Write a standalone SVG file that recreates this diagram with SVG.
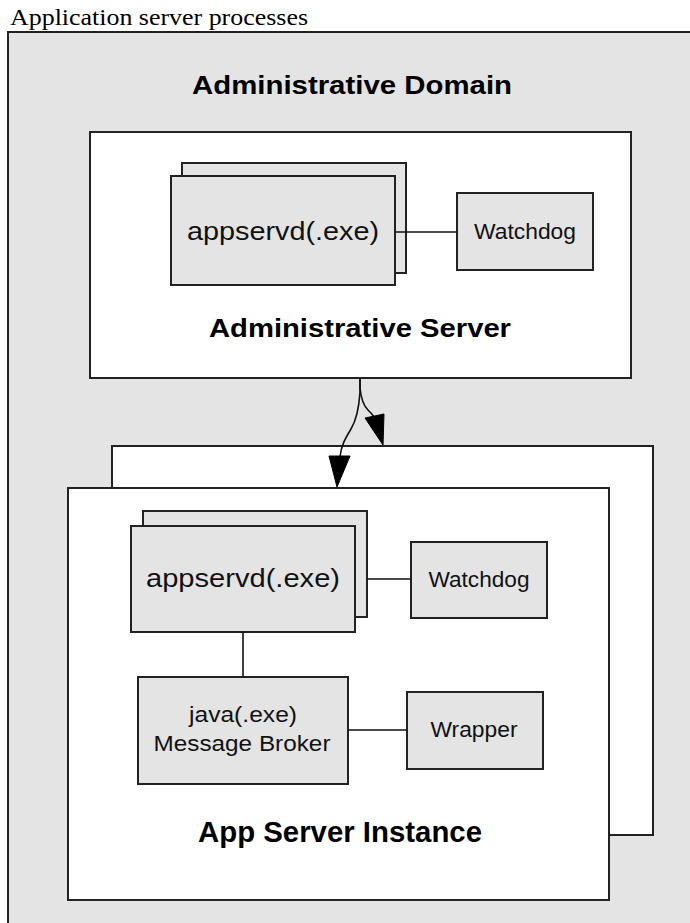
<svg xmlns="http://www.w3.org/2000/svg" width="690" height="923" viewBox="0 0 690 923">
<style>
.box{fill:#e4e4e4;stroke:#222;stroke-width:2}
.srv{fill:#ffffff;stroke:#222;stroke-width:2}
.ln{fill:none;stroke:#111;stroke-width:1.6}
.lbl{font-family:"Liberation Sans",Arial,sans-serif;font-size:22px;fill:#111;text-anchor:middle}
.big{font-family:"Liberation Sans",Arial,sans-serif;font-size:26px;fill:#111;text-anchor:middle}
.hd{font-family:"Liberation Sans",Arial,sans-serif;font-weight:bold;fill:#000;text-anchor:middle}
.ah{fill:#000;stroke:#000;stroke-width:1}
</style>
<rect x="0" y="0" width="690" height="923" fill="#ffffff"/>
<text x="10" y="25" font-family="Liberation Serif,'Times New Roman',serif" font-size="23" fill="#000" textLength="298" lengthAdjust="spacingAndGlyphs">Application server processes</text>

<g id="domain">
<rect x="8" y="32" width="700" height="910" fill="#e4e4e4" stroke="#222" stroke-width="2"/>
<text class="hd" x="352" y="94" font-size="26" textLength="320" lengthAdjust="spacingAndGlyphs">Administrative Domain</text>
</g>

<g id="admin-server">
<rect class="srv" x="90" y="132" width="541" height="246"/>
<text class="hd" x="360" y="337" font-size="25" textLength="302" lengthAdjust="spacingAndGlyphs">Administrative Server</text>
</g>
<g id="admin-appservd">
<rect class="box" x="182" y="163" width="224" height="110"/>
<rect class="box" x="171" y="176" width="224" height="109"/>
<text class="big" x="283" y="240" textLength="192" lengthAdjust="spacingAndGlyphs">appservd(.exe)</text>
</g>
<g id="admin-watchdog">
<rect class="box" x="457" y="193" width="136" height="77"/>
<text class="lbl" x="525" y="239" textLength="102" lengthAdjust="spacingAndGlyphs">Watchdog</text>
</g>

<g id="instance-back">
<rect class="srv" x="112" y="446" width="541" height="389"/>
</g>
<g id="app-server-instance">
<rect class="srv" x="68" y="488" width="541" height="412"/>
<text class="hd" x="340" y="842" font-size="30" textLength="284" lengthAdjust="spacingAndGlyphs">App Server Instance</text>
</g>
<g id="app-appservd">
<rect class="box" x="143" y="511" width="224" height="106"/>
<rect class="box" x="131" y="526" width="224" height="106"/>
<text class="big" x="243" y="587" textLength="194" lengthAdjust="spacingAndGlyphs">appservd(.exe)</text>
</g>
<g id="app-watchdog">
<rect class="box" x="411" y="542" width="136" height="76"/>
<text class="lbl" x="479" y="587" textLength="101" lengthAdjust="spacingAndGlyphs">Watchdog</text>
</g>
<g id="java-broker">
<rect class="box" x="138" y="677" width="210" height="107"/>
<text class="lbl" x="243" y="722" textLength="108" lengthAdjust="spacingAndGlyphs">java(.exe)</text>
<text class="lbl" x="242" y="751" textLength="177" lengthAdjust="spacingAndGlyphs">Message Broker</text>
</g>
<g id="wrapper">
<rect class="box" x="407" y="692" width="136" height="77"/>
<text class="lbl" x="474" y="737" textLength="87" lengthAdjust="spacingAndGlyphs">Wrapper</text>
</g>

<g id="connectors">
<line class="ln" x1="395" y1="232" x2="457" y2="232"/>
<line class="ln" x1="367" y1="579" x2="411" y2="579"/>
<line class="ln" x1="243" y1="632" x2="243" y2="677"/>
<line class="ln" x1="348" y1="730" x2="407" y2="730"/>
<path class="ln" d="M360,378 L360,388 C361,398 363,405 368,410 C371,413 373,415 374,417"/>
<polygon class="ah" points="365,418 384,414 383,445"/>
<path class="ln" d="M360,378 L360,392 C359,408 357,419 351,429 C345,439 341,446 340,457"/>
<polygon class="ah" points="329,456 350,456 337,487"/>
</g>
</svg>
